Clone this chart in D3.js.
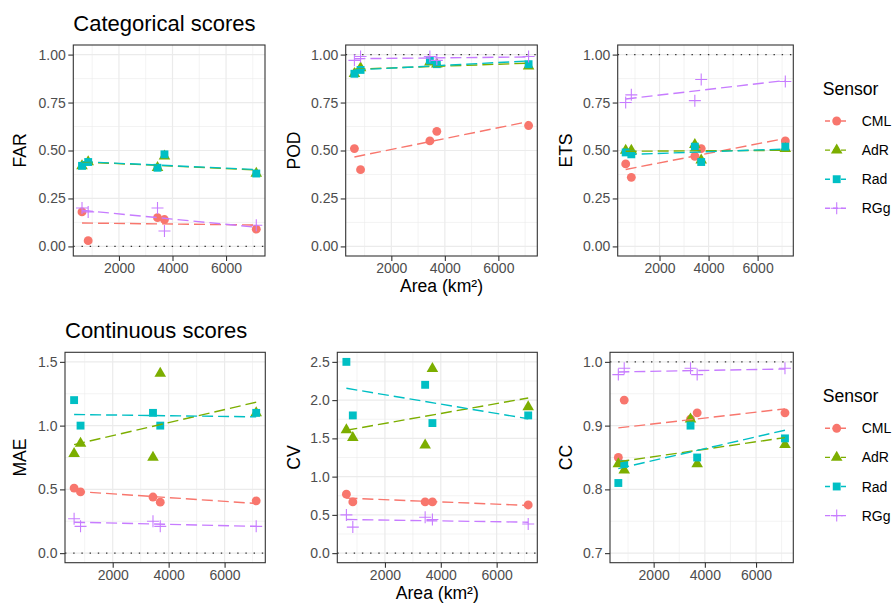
<!DOCTYPE html>
<html><head><meta charset="utf-8">
<script src="https://cdn.jsdelivr.net/npm/d3@7"></script>
<style>
body{margin:0;background:#fff;}
text{font-family:"Liberation Sans",Arial,Helvetica,sans-serif;}
</style></head>
<body><svg id="c" width="893" height="611"></svg>
<script>
// ---------- data ----------
const area = [620, 850, 3440, 3700, 7130];
const sensors = ["CML", "AdR", "Rad", "RGg"];
const colors = ["#F8766D", "#7CAE00", "#00BFC4", "#C77CFF"];

const FAR = { CML:[0.18,0.03,0.15,0.14,0.09], AdR:[0.42,0.44,0.41,0.47,0.38], Rad:[0.42,0.44,0.41,0.48,0.38], RGg:[0.20,0.18,0.20,0.08,0.11] };
const POD = { CML:[0.51,0.40,0.55,0.60,0.63], AdR:[0.90,0.93,0.96,0.95,0.94], Rad:[0.90,0.92,0.97,0.95,0.95], RGg:[0.97,0.99,0.99,0.97,0.99] };
const ETS = { CML:[0.43,0.36,0.47,0.51,0.55], AdR:[0.50,0.50,0.53,0.45,0.51], Rad:[0.49,0.48,0.52,0.44,0.52], RGg:[0.75,0.79,0.76,0.87,0.86] };
const MAE = { CML:[0.51,0.48,0.44,0.40,0.41], AdR:[0.78,0.86,0.75,1.41,1.10], Rad:[1.20,1.00,1.10,1.00,1.10], RGg:[0.27,0.21,0.25,0.21,0.21] };
const CV  = { CML:[0.77,0.67,0.67,0.67,0.63], AdR:[1.61,1.51,1.41,2.41,1.91], Rad:[2.50,1.80,2.20,1.70,1.80], RGg:[0.50,0.34,0.47,0.44,0.38] };
const CC  = { CML:[0.85,0.94,0.91,0.92,0.92], AdR:[0.84,0.83,0.91,0.84,0.87], Rad:[0.81,0.84,0.90,0.85,0.88], RGg:[0.98,0.99,0.99,0.98,0.99] };

const xTicks = [2000, 4000, 6000];
const xMinor = [1000, 3000, 5000, 7000];
const probTicks = [0, 0.25, 0.5, 0.75, 1];
const maeTicks = [0, 0.5, 1, 1.5];
const cvTicks = [0, 0.5, 1, 1.5, 2, 2.5];
const ccTicks = [0.7, 0.8, 0.9, 1.0];

const rowTitles = ["Categorical scores", "Continuous scores"];
const xTitle = "Area (km²)";
const legendTitle = "Sensor";

// ---------- layout ----------
const panels = [
  {name:"FAR", d:FAR, ticks:probTicks, lim:[0,1], ref:0, fmt:".2f", row:0, x0:73.3, x1:265, tx:20},
  {name:"POD", d:POD, ticks:probTicks, lim:[0,1], ref:1, fmt:".2f", row:0, x0:345.7, x1:537.3, tx:293.5, xt:true},
  {name:"ETS", d:ETS, ticks:probTicks, lim:[0,1], ref:1, fmt:".2f", row:0, x0:617.7, x1:793.3, tx:566},
  {name:"MAE", d:MAE, ticks:maeTicks, lim:[0,1.5], ref:0, fmt:".1f", row:1, x0:65, x1:265.3, tx:20},
  {name:"CV",  d:CV,  ticks:cvTicks, lim:[0,2.5], ref:0, fmt:".1f", row:1, x0:337.3, x1:537.3, tx:293.5, xt:true},
  {name:"CC",  d:CC,  ticks:ccTicks, lim:[0.7,1.0], ref:1, fmt:".1f", row:1, x0:610, x1:793.3, tx:566}
];
const rows = [{top:45, bottom:256}, {top:352.3, bottom:562.7}];

const svg = d3.select("#c");
const grid = "#EBEBEB";

function expand(lo, hi){ const p=(hi-lo)*0.05; return [lo-p, hi+p]; }
const xExt = d3.extent(area);

function symbolPath(i, s){
  if (i===3){ const h=6*s; return `M${-h},0H${h}M0,${-h}V${h}`; }
  const types=[d3.symbolCircle, d3.symbolTriangle, d3.symbolSquare];
  const sizes=[62, 58, 62];
  return d3.symbol().type(types[i]).size(sizes[i]*s*s)();
}
function drawPoint(g, i, x, y, s){
  const p = g.append("path").attr("d", symbolPath(i, s||1)).attr("transform", `translate(${x},${y})`);
  if (i===3) p.attr("fill","none").attr("stroke",colors[i]).attr("stroke-width",1.1);
  else p.attr("fill",colors[i]).attr("stroke","none");
}
function fit(xs, ys){
  const mx=d3.mean(xs), my=d3.mean(ys);
  let sxy=0,sxx=0; xs.forEach((x,k)=>{sxy+=(x-mx)*(ys[k]-my); sxx+=(x-mx)*(x-mx);});
  const b=sxy/sxx; return x=>my+b*(x-mx);
}

panels.forEach(P=>{
  const R = rows[P.row];
  const x = d3.scaleLinear().domain(expand(xExt[0], xExt[1])).range([P.x0, P.x1]);
  const y = d3.scaleLinear().domain(expand(P.lim[0], P.lim[1])).range([R.bottom, R.top]);
  const g = svg.append("g");
  const yMinor = d3.pairs(P.ticks).map(([a,b])=>(a+b)/2);
  // grid
  g.selectAll(null).data(yMinor).join("line").attr("x1",P.x0).attr("x2",P.x1)
    .attr("y1",d=>y(d)).attr("y2",d=>y(d)).attr("stroke",grid).attr("stroke-width",0.6);
  g.selectAll(null).data(xMinor.filter(v=>x(v)>P.x0&&x(v)<P.x1)).join("line").attr("y1",R.top).attr("y2",R.bottom)
    .attr("x1",d=>x(d)).attr("x2",d=>x(d)).attr("stroke",grid).attr("stroke-width",0.6);
  g.selectAll(null).data(P.ticks).join("line").attr("x1",P.x0).attr("x2",P.x1)
    .attr("y1",d=>y(d)).attr("y2",d=>y(d)).attr("stroke",grid).attr("stroke-width",1.2);
  g.selectAll(null).data(xTicks).join("line").attr("y1",R.top).attr("y2",R.bottom)
    .attr("x1",d=>x(d)).attr("x2",d=>x(d)).attr("stroke",grid).attr("stroke-width",1.2);
  // reference line
  g.append("line").attr("x1",P.x0).attr("x2",P.x1).attr("y1",y(P.ref)).attr("y2",y(P.ref))
    .attr("stroke","#333").attr("stroke-width",1.4).attr("stroke-dasharray","1.4,6.8");
  // points
  sensors.forEach((s,i)=>{
    P.d[s].forEach((v,k)=>drawPoint(g, i, x(area[k]), y(v)));
  });
  // fitted dashed lines
  sensors.forEach((s,i)=>{
    const f = fit(area, P.d[s]);
    g.append("line").attr("x1",x(xExt[0])).attr("x2",x(xExt[1]))
      .attr("y1",y(f(xExt[0]))).attr("y2",y(f(xExt[1])))
      .attr("stroke",colors[i]).attr("stroke-width",1.4).attr("stroke-dasharray","11,5");
  });
  // border
  g.append("rect").attr("x",P.x0).attr("y",R.top).attr("width",P.x1-P.x0).attr("height",R.bottom-R.top)
    .attr("fill","none").attr("stroke","#333").attr("stroke-width",1.1);
  // axes
  const ax = g.append("g").attr("transform",`translate(0,${R.bottom})`)
    .call(d3.axisBottom(x).tickValues(xTicks).tickFormat(d3.format("d")).tickSize(5).tickPadding(2.5));
  const ay = g.append("g").attr("transform",`translate(${P.x0},0)`)
    .call(d3.axisLeft(y).tickValues(P.ticks).tickFormat(d3.format(P.fmt)).tickSize(5).tickPadding(2.5));
  [ax,ay].forEach(a=>{
    a.select(".domain").remove();
    a.selectAll(".tick line").attr("stroke","#333").attr("stroke-width",1.1);
    a.selectAll(".tick text").attr("fill","#4D4D4D").style("font-size","14px");
  });
  // y title
  g.append("text").attr("transform",`translate(${P.tx},${(R.top+R.bottom)/2}) rotate(-90)`)
    .attr("text-anchor","middle").attr("dy","0.36em").style("font-size","17.6px").attr("fill","#000").text(P.name);
  if (P.xt){
    g.append("text").attr("x",(P.x0+P.x1)/2).attr("y",R.bottom+36).attr("text-anchor","middle")
      .style("font-size","17.6px").attr("fill","#000").text(xTitle);
  }
});

// row titles and legends
rows.forEach((R,r)=>{
  const left = panels[r*3].x0;
  svg.append("text").attr("x",left).attr("y",R.top-14.3).style("font-size","22px").attr("fill","#000").text(rowTitles[r]);
  const off = R.top - 45;
  const lg = svg.append("g");
  lg.append("text").attr("x",822.7).attr("y",95+off).style("font-size","17.6px").attr("fill","#000").text(legendTitle);
  sensors.forEach((s,i)=>{
    const yy = 121 + i*29.1 + off;
    lg.append("line").attr("x1",825).attr("x2",848.3).attr("y1",yy).attr("y2",yy)
      .attr("stroke",colors[i]).attr("stroke-width",1.4).attr("stroke-dasharray","5,3");
    drawPoint(lg, i, 836.7, yy, 1);
    lg.append("text").attr("x",861.7).attr("y",yy).attr("dy","0.36em").style("font-size","14px").attr("fill","#000").text(s);
  });
});
</script></body></html>
